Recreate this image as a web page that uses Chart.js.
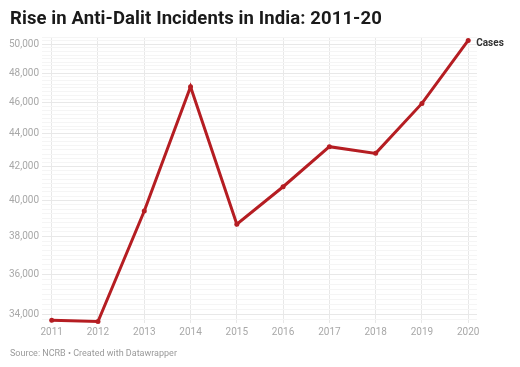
<!DOCTYPE html>
<html lang="en">
<head>
    <meta charset="UTF-8">
    <title>Rise in Anti-Dalit Incidents in India: 2011-20</title>
    <style>
        body {
            margin: 0;
            background-color: #fff;
            font-family: Roboto, Arial, sans-serif;
        }
        #wrap {
            position: relative;
            width: 520px;
            height: 367px;
        }
        #wrap canvas {
            position: absolute;
            left: 0;
            top: 0;
        }
        .title {
            position: absolute;
            left: 10px;
            top: 7px;
            font-size: 18.5px;
            font-weight: bold;
            letter-spacing: 0.1px;
            color: #1a1a1a;
            white-space: nowrap;
        }
        .source {
            position: absolute;
            left: 10px;
            top: 348px;
            font-size: 9px;
            color: #9a9a9a;
            white-space: nowrap;
        }
    </style>
</head>
<body>
    <div id="wrap">
        <canvas id="chart" width="520" height="367"></canvas>
        <div class="title">Rise in Anti-Dalit Incidents in India: 2011-20</div>
        <div class="source">Source: NCRB • Created with Datawrapper</div>
    </div>
    <script src="https://cdn.jsdelivr.net/npm/chart.js"></script>
    <script>
        // data (NCRB figures)
        const years = [2011, 2012, 2013, 2014, 2015, 2016, 2017, 2018, 2019, 2020];
        const cases = [33719, 33655, 39408, 47064, 38670, 40801, 43203, 42793, 45961, 50291];
        const yLabelTicks = [34000, 36000, 38000, 40000, 42000, 44000, 46000, 48000, 50000];
        const seriesName = 'Cases';

        const lineColor = '#b51d22';

        // faint minor lines every 250 between the labelled ones
        const yGridTicks = [];
        for (let v = 33750; v <= 50500; v += 250) yGridTicks.push(v);

        const seriesLabel = {
            id: 'seriesLabel',
            afterDatasetsDraw(chart) {
                const meta = chart.getDatasetMeta(0);
                const last = meta.data[meta.data.length - 1];
                const ctx = chart.ctx;
                ctx.save();
                ctx.font = 'bold 10px Roboto, Arial, sans-serif';
                ctx.fillStyle = '#333';
                ctx.textBaseline = 'middle';
                ctx.fillText(seriesName, last.x + 8, last.y + 3);
                ctx.restore();
            }
        };

        new Chart(document.getElementById('chart'), {
            type: 'line',
            data: {
                datasets: [{
                    label: seriesName,
                    data: years.map((y, i) => ({ x: y, y: cases[i] })),
                    borderColor: lineColor,
                    backgroundColor: lineColor,
                    borderWidth: 3,
                    pointRadius: 2.5,
                    pointBorderWidth: 0,
                    pointBackgroundColor: lineColor,
                    tension: 0,
                    clip: false
                }]
            },
            options: {
                responsive: false,
                animation: false,
                layout: { padding: { top: 37.5, bottom: 24.4, left: 0, right: 43 } },
                plugins: {
                    legend: { display: false },
                    tooltip: { enabled: false }
                },
                scales: {
                    x: {
                        type: 'linear',
                        min: 2010.79,
                        max: 2020.19,
                        afterBuildTicks: s => { s.ticks = years.map(v => ({ value: v })); },
                        afterFit: s => { s.height = 20; },
                        border: { display: false },
                        grid: { color: '#e8e8e8', lineWidth: 1, drawTicks: false },
                        ticks: {
                            autoSkip: false,
                            padding: 4,
                            color: '#a8a8a8',
                            font: { family: 'Roboto, Arial, sans-serif', size: 10 },
                            callback: v => String(v)
                        }
                    },
                    y: {
                        type: 'logarithmic',
                        min: 33600,
                        max: 50500,
                        afterBuildTicks: s => { s.ticks = yGridTicks.map(v => ({ value: v })); },
                        afterFit: s => { s.width = 42; },
                        border: { display: false },
                        grid: {
                            drawTicks: false,
                            color: c => yLabelTicks.includes(c.tick && c.tick.value) ? '#e8e8e8' : '#f5f5f5',
                            lineWidth: 1
                        },
                        ticks: {
                            autoSkip: false,
                            padding: 3,
                            color: '#a8a8a8',
                            font: { family: 'Roboto, Arial, sans-serif', size: 10 },
                            callback: v => yLabelTicks.includes(v) ? v.toLocaleString('en-US') : ''
                        }
                    }
                }
            },
            plugins: [seriesLabel]
        });
    </script>
</body>
</html>
